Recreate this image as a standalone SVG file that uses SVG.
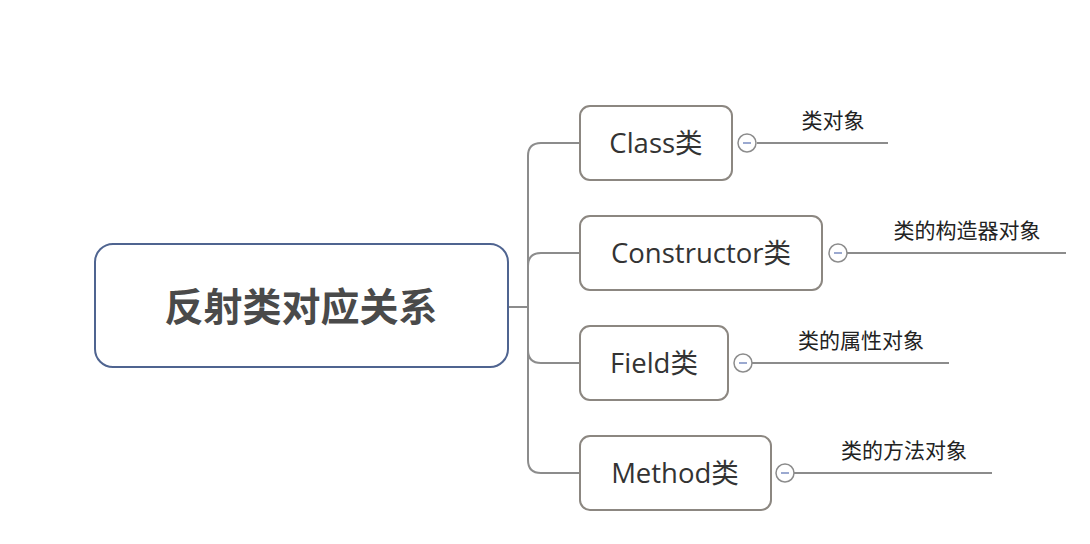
<svg xmlns="http://www.w3.org/2000/svg" width="1090" height="544" viewBox="0 0 1090 544">
<style>
.bg{fill:#ffffff}
.root{fill:#ffffff;stroke:#4f6490;stroke-width:2}
.node{fill:#ffffff;stroke:#8c8781;stroke-width:2}
.conn{fill:none;stroke:#8c8c8c;stroke-width:2}
.col{fill:#ffffff;stroke:#8c8c8c;stroke-width:1.5}
.minus{stroke:#7a8cc0;stroke-width:1.5}
.rt{font-family:"Noto Sans CJK SC","Open Sans",sans-serif;font-size:39px;font-weight:bold;fill:#4a4a4a;text-anchor:middle}
.nt{font-family:"Open Sans","Noto Sans CJK SC",sans-serif;font-size:27.5px;fill:#333333;text-anchor:middle}
.lt{font-family:"Noto Sans CJK SC",sans-serif;font-size:21px;fill:#222222;text-anchor:middle}
</style>
<rect class="bg" x="0" y="0" width="1090" height="544"/>
<g id="connectors">
<path class="conn" d="M508 307 H528"/>
<path class="conn" d="M580 143 H541 Q528 143 528 156 V460 Q528 473 541 473 H580"/>
<path class="conn" d="M580 253 H541 Q528 253 528 266"/>
<path class="conn" d="M580 363 H541 Q528 363 528 350"/>
<path class="conn" d="M757 143 H888"/>
<path class="conn" d="M847 253 H1066"/>
<path class="conn" d="M752 363 H949"/>
<path class="conn" d="M794 473 H992"/>
</g>
<g id="root">
<rect class="root" x="95" y="244" width="413" height="123" rx="18"/>
<text class="rt" x="301" y="321">反射类对应关系</text>
</g>
<g id="class">
<rect class="node" x="580" y="106" width="152" height="74" rx="10"/>
<text class="nt" x="656" y="153">Class类</text>
<circle class="col" cx="747" cy="143" r="9"/>
<path class="minus" d="M743 143 H751"/>
<text class="lt" x="833" y="128">类对象</text>
</g>
<g id="constructor">
<rect class="node" x="580" y="216" width="242" height="74" rx="10"/>
<text class="nt" x="701" y="263">Constructor类</text>
<circle class="col" cx="838" cy="253" r="9"/>
<path class="minus" d="M834 253 H842"/>
<text class="lt" x="967" y="238">类的构造器对象</text>
</g>
<g id="field">
<rect class="node" x="580" y="326" width="148" height="74" rx="10"/>
<text class="nt" x="654" y="373">Field类</text>
<circle class="col" cx="743" cy="363" r="9"/>
<path class="minus" d="M739 363 H747"/>
<text class="lt" x="861" y="348">类的属性对象</text>
</g>
<g id="method">
<rect class="node" x="580" y="436" width="191" height="74" rx="10"/>
<text class="nt" x="675" y="483">Method类</text>
<circle class="col" cx="785" cy="473" r="9"/>
<path class="minus" d="M781 473 H789"/>
<text class="lt" x="904" y="458">类的方法对象</text>
</g>
</svg>
